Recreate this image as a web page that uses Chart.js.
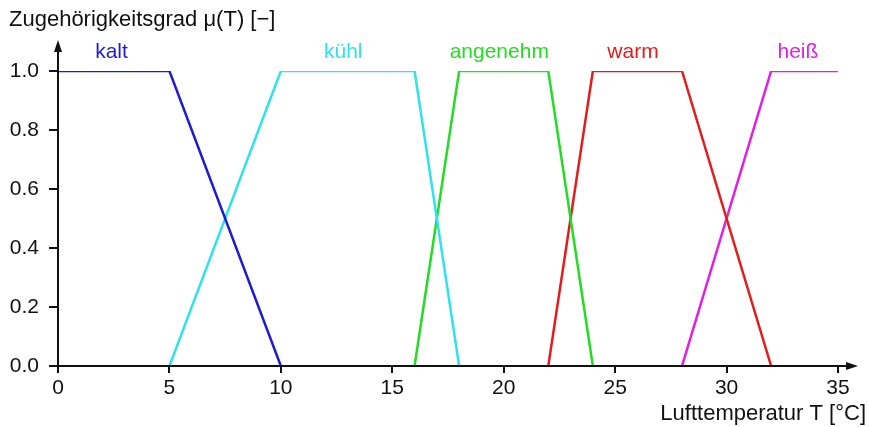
<!DOCTYPE html>
<html><head><meta charset="utf-8">
<script src="https://cdn.jsdelivr.net/npm/chart.js@4"></script>
<style>html,body{margin:0;padding:0;background:#fff}#wrap{width:869px;height:427px}</style>
</head><body><div id="wrap"><canvas id="c" width="869" height="427"></canvas></div>
<script>
const seriesNames = ["kalt", "kühl", "angenehm", "warm", "heiß"];
const kaltT = [0, 5, 10];        const kaltMu = [1, 1, 0];
const kuehlT = [5, 10, 16, 18];  const kuehlMu = [0, 1, 1, 0];
const angenehmT = [16, 18, 22, 24]; const angenehmMu = [0, 1, 1, 0];
const warmT = [22, 24, 28, 32];  const warmMu = [0, 1, 1, 0];
const heissT = [28, 32, 35];     const heissMu = [0, 1, 1];
const xTicks = [0, 5, 10, 15, 20, 25, 30, 35];
const yTicks = [0, 0.2, 0.4, 0.6, 0.8, 1.0];
const labelT = [2.4, 12.8, 19.8, 25.8, 33.2];
const colors = ["#1c1cd2", "#30e2ea", "#24dc24", "#e41c1c", "#e01ee6"];

const pts = (xs, ys) => xs.map((x, i) => ({x, y: ys[i]}));
const allData = [pts(kaltT, kaltMu), pts(kuehlT, kuehlMu), pts(angenehmT, angenehmMu), pts(warmT, warmMu), pts(heissT, heissMu)];
const FONT = "Liberation Sans, Arial, sans-serif";

const axisPlugin = {
  id: 'axes',
  afterDraw(chart) {
    const ctx = chart.ctx;
    const xs = chart.scales.x, ys = chart.scales.y;
    const x0 = xs.getPixelForValue(0), y0 = ys.getPixelForValue(0);
    ctx.save();
    ctx.strokeStyle = '#111'; ctx.fillStyle = '#111'; ctx.lineWidth = 2;
    ctx.beginPath(); ctx.moveTo(x0, y0); ctx.lineTo(852, y0); ctx.stroke();
    ctx.beginPath(); ctx.moveTo(x0, y0); ctx.lineTo(x0, 46); ctx.stroke();
    ctx.beginPath(); ctx.moveTo(858, y0); ctx.lineTo(846, y0 - 4); ctx.lineTo(846, y0 + 4); ctx.closePath(); ctx.fill();
    ctx.beginPath(); ctx.moveTo(x0, 40); ctx.lineTo(x0 - 4, 52); ctx.lineTo(x0 + 4, 52); ctx.closePath(); ctx.fill();
    // series labels
    ctx.font = '21px ' + FONT; ctx.textAlign = 'center'; ctx.textBaseline = 'middle';
    seriesNames.forEach((n, i) => {
      ctx.fillStyle = colors[i];
      ctx.fillText(n, xs.getPixelForValue(labelT[i]), ys.getPixelForValue(1) - 19);
    });
    ctx.fillStyle = '#111';
    ctx.font = '22px ' + FONT;
    ctx.textAlign = 'left';
    ctx.fillText('Zugehörigkeitsgrad μ(T) [−]', 9, 20);
    ctx.textAlign = 'right';
    ctx.fillText('Lufttemperatur T [°C]', 866, 414);
    ctx.restore();
  }
};

new Chart(document.getElementById('c'), {
  type: 'line',
  data: {
    datasets: allData.map((d, i) => ({
      label: seriesNames[i], data: d, borderColor: colors[i], borderWidth: 2.5,
      pointRadius: 0, tension: 0, fill: false
    }))
  },
  options: {
    responsive: false, animation: false,
    layout: {padding: {left: 0, top: 71, right: 31, bottom: 0}},
    plugins: {legend: {display: false}, tooltip: {enabled: false}},
    scales: {
      x: {
        type: 'linear', min: 0, max: 35,
        afterFit: s => { s.height = 61; },
        afterBuildTicks: s => { s.ticks = xTicks.map(v => ({value: v})); },
        border: {display: false},
        grid: {drawOnChartArea: false, drawTicks: true, tickLength: 7, color: '#111', lineWidth: 2},
        ticks: {color: '#111', font: {size: 21, family: FONT}, padding: 3, maxRotation: 0}
      },
      y: {
        min: 0, max: 1,
        afterFit: s => { s.width = 58; },
        afterBuildTicks: s => { s.ticks = yTicks.map(v => ({value: v})); },
        border: {display: false},
        grid: {drawOnChartArea: false, drawTicks: true, tickLength: 9, color: '#111', lineWidth: 2},
        ticks: {color: '#111', font: {size: 21, family: FONT}, padding: 10, callback: v => v.toFixed(1)}
      }
    }
  },
  plugins: [axisPlugin]
});
</script></body></html>
